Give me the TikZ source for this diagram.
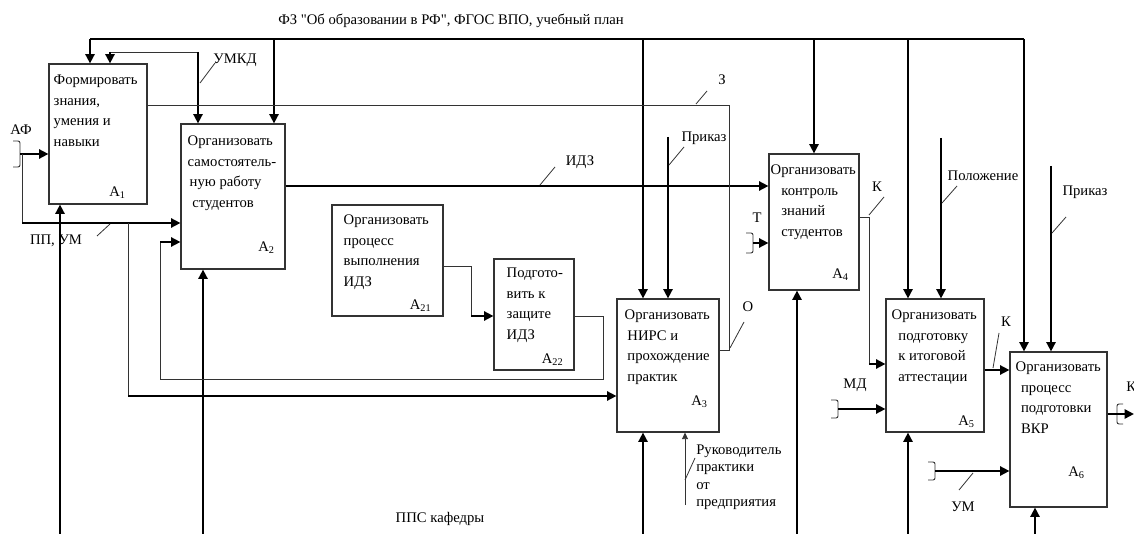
\documentclass[tikz,border=0pt]{standalone}
\usepackage{fontspec}
\setmainfont{Liberation Serif}
\newfontfamily\plainserif{Liberation Serif}
\usetikzlibrary{arrows.meta,fit}

\tikzset{
    blk/.style={draw=black!80, line width=0.8pt, inner sep=0pt},
    btxt/.style={anchor=north west, align=left, inner sep=0pt},
    lbl/.style={inner sep=0pt},
    thk/.style={line width=1.6pt},
    mid/.style={line width=1pt},
    thn/.style={draw=black!80, line width=0.7pt},
    tunnel in/.pic={\draw[thn, rounded corners=1.5pt] (-7,-#1) -- (0,-#1) -- (0,#1) -- (-7,#1);},
    tunnel out/.pic={\draw[thn, rounded corners=1.5pt] (6,-#1) -- (0,-#1) -- (0,#1) -- (6,#1);},
}

\begin{document}
\begin{tikzpicture}[x=0.75pt, y=-0.75pt, >={Triangle[length=7pt,width=6.8pt]},
        font=\fontsize{11}{15.5}\selectfont]
        \useasboundingbox (0,0) rectangle (1134,534);

        % blocks
        \node[blk, fit={(49,64) (147,204)}] (a1) {};
        \node[blk, fit={(181,124) (285,269)}] (a2) {};
        \node[blk, fit={(332,205) (443,316)}] (a21) {};
        \node[blk, fit={(494,259) (574,370)}] (a22) {};
        \node[blk, fit={(617,299) (719,432)}] (a3) {};
        \node[blk, fit={(769,154) (859,290)}] (a4) {};
        \node[blk, fit={(886,299) (984,432)}] (a5) {};
        \node[blk, fit={(1010,352) (1107,507)}] (a6) {};

        \node[btxt] (a1t) at ([shift={(5,11)}]a1.north west) {Формировать\\знания,\\умения и\\навыки};
        \node[btxt] (a2t) at ([shift={(7,12)}]a2.north west) {Организовать\\самостоятель-\\\hspace*{1.5pt}ную работу\\\hspace*{3.5pt}студентов};
        \node[btxt] (a21t) at ([shift={(12,10)}]a21.north west) {Организовать\\процесс\\выполнения\\ИДЗ};
        \node[btxt] (a22t) at ([shift={(13,9)}]a22.north west) {Подгото-\\вить к\\защите\\ИДЗ};
        \node[btxt] (a3t) at ([shift={(8,11)}]a3.north west) {Организовать\\\hspace*{2pt}НИРС и\\\hspace*{2pt}прохождение\\\hspace*{2pt}практик};
        \node[btxt] (a4t) at ([shift={(2,11)}]a4.north west) {Организовать\\\hspace*{8pt}контроль\\\hspace*{8pt}знаний\\\hspace*{8pt}студентов};
        \node[btxt] (a5t) at ([shift={(6,11)}]a5.north west) {Организовать\\\hspace*{5pt}подготовку\\\hspace*{5pt}к итоговой\\\hspace*{5pt}аттестации};
        \node[btxt] (a6t) at ([shift={(6,10)}]a6.north west) {Организовать\\\hspace*{4pt}процесс\\\hspace*{4pt}подготовки\\\hspace*{4pt}ВКР};

        \path (a1.south east) ++(-30,-12) node[lbl] (a1n) {A\textsubscript{1}};
        \path (a2.south east) ++(-19,-22) node[lbl] (a2n) {A\textsubscript{2}};
        \path (a21.south east) ++(-23,-11) node[lbl] (a21n) {A\textsubscript{21}};
        \path (a22.south east) ++(-22,-11) node[lbl] (a22n) {A\textsubscript{22}};
        \path (a3.south east) ++(-20,-31) node[lbl] (a3n) {A\textsubscript{3}};
        \path (a4.south east) ++(-19,-16) node[lbl] (a4n) {A\textsubscript{4}};
        \path (a5.south east) ++(-18,-11) node[lbl] (a5n) {A\textsubscript{5}};
        \path (a6.south east) ++(-31,-35) node[lbl] (a6n) {A\textsubscript{6}};

        % controls from above
        \coordinate (c1) at (90,39);
        \coordinate (c2) at (274,39);
        \coordinate (c3) at (643,39);
        \coordinate (c4) at (814,39);
        \coordinate (c5) at (908,39);
        \coordinate (c6) at (1024,39);
        \draw[mid] (c1) -- (c6);
        \draw[thk, ->] (c1) -- (c1 |- a1.north);
        \draw[thk, ->] (c2) -- (c2 |- a2.north);
        \draw[thk, ->] (c3) -- (c3 |- a3.north);
        \draw[thk, ->] (c4) -- (c4 |- a4.north);
        \draw[thk, ->] (c5) -- (c5 |- a5.north);
        \draw[thk, ->] (c6) -- (c6 |- a6.north);

        \coordinate (u1) at (110,52);
        \coordinate (u2) at (198,52);
        \draw[thn] (u1) -- (u2);
        \draw[thk, ->] (u1) -- (u1 |- a1.north);
        \draw[thk, ->] (u2) -- (u2 |- a2.north);

        \coordinate (p3) at (668,137);
        \coordinate (p5) at (941,138);
        \coordinate (p6) at (1051,166);
        \draw[thk, ->] (p3) -- (p3 |- a3.north);
        \draw[thk, ->] (p5) -- (p5 |- a5.north);
        \draw[thk, ->] (p6) -- (p6 |- a6.north);

        % mechanisms from below
        \coordinate (m1) at (60,534);
        \coordinate (m2) at (203,534);
        \coordinate (m3) at (643,534);
        \coordinate (m4) at (797,534);
        \coordinate (m5) at (908,534);
        \coordinate (m6) at (1035,534);
        \draw[thk, ->] (m1) -- (m1 |- a1.south);
        \draw[thk, ->] (m2) -- (m2 |- a2.south);
        \draw[thk, ->] (m3) -- (m3 |- a3.south);
        \draw[thk, ->] (m4) -- (m4 |- a4.south);
        \draw[thk, ->] (m5) -- (m5 |- a5.south);
        \draw[thk, ->] (m6) -- (m6 |- a6.south);
        \coordinate (r3) at (685,505);
        \draw[thn, ->, >={Triangle[length=5pt,width=4.5pt]}] (r3) -- (r3 |- a3.south);

        % inputs and outputs
        \coordinate (af) at (20,154);
        \pic at (af) {tunnel in=13};
        \draw[thk, ->] (af) -- (af -| a1.west);
        \coordinate (pp) at (22,223);
        \draw[thn] (af -| pp) -- (pp);
        \draw[thk, ->] (pp) -- (pp -| a2.west);

        \coordinate (n1) at (128,223);
        \coordinate (n2) at (128,396);
        \draw[thn] (n1) -- (n2);
        \draw[thk, ->] (n2) -- (n2 -| a3.west);

        \coordinate (idz) at (0,186);
        \draw[thk, ->] (a2.east |- idz) -- (a4.west |- idz);

        \coordinate (z1) at (729,105);
        \coordinate (z2) at (729,350);
        \draw[thn] (a1.east |- z1) -- (z1) -- (z2) -- (z2 -| a3.east);

        \coordinate (g1) at (471,266);
        \coordinate (g2) at (471,316);
        \draw[thn] (a21.east |- g1) -- (g1) -- (g2);
        \draw[thk, ->] (g2) -- (g2 -| a22.west);

        \coordinate (f1) at (603,316);
        \coordinate (f2) at (603,379);
        \coordinate (f3) at (160,379);
        \coordinate (f4) at (160,242);
        \draw[thn] (a22.east |- f1) -- (f1) -- (f2) -- (f3) -- (f4);
        \draw[thk, ->] (f4) -- (f4 -| a2.west);

        \coordinate (t4) at (753,243);
        \pic at (t4) {tunnel in=10};
        \draw[thk, ->] (t4) -- (t4 -| a4.west);

        \coordinate (k1) at (869,217);
        \coordinate (k2) at (869,364);
        \draw[thn] (a4.east |- k1) -- (k1) -- (k2);
        \draw[thk, ->] (k2) -- (k2 -| a5.west);

        \coordinate (md) at (838,409);
        \pic at (md) {tunnel in=9};
        \draw[thk, ->] (md) -- (md -| a5.west);

        \coordinate (k5) at (0,370);
        \draw[thk, ->] (a5.east |- k5) -- (a6.west |- k5);

        \coordinate (um) at (935,471);
        \pic at (um) {tunnel in=9};
        \draw[thk, ->] (um) -- (um -| a6.west);

        \coordinate (ko) at (1134,414);
        \pic at (1117,414) {tunnel out=10};
        \draw[thk, ->] (a6.east |- ko) -- (ko);

        % labels
        \node[lbl] (ctl) at (451,21) {ФЗ {\plainserif"}Об образовании в РФ{\plainserif"}, ФГОС ВПО, учебный план};
        \node[lbl] (umkd) at (235,60) {УМКД};
        \node[lbl] (afl) at (21,130) {АФ};
        \node[lbl] (ppl) at (56,241) {ПП, УМ};
        \node[lbl] (idzl) at (580,162) {ИДЗ};
        \node[lbl] (zl) at (722,80) {З};
        \node[lbl] (pr3) at (704,138) {Приказ};
        \node[lbl] (ol) at (748,307) {О};
        \node[lbl] (tl) at (757,218) {Т};
        \node[lbl] (k4l) at (877,187) {К};
        \node[lbl] (polo) at (983,176) {Положение};
        \node[lbl] (pr6) at (1085,192) {Приказ};
        \node[lbl] (k5l) at (1006,322) {К};
        \node[lbl] (mdl) at (855,385) {МД};
        \node[lbl] (uml) at (963,507) {УМ};
        \node[lbl, anchor=west] (k6l) at (1126,387) {К};
        \node[lbl, anchor=north west, align=left, font=\fontsize{11}{12.8}\selectfont] (ruk) at (696,445) {Руководитель\\практики\\от\\предприятия};
        \node[lbl] (pps) at (440,519) {ППС кафедры};

        \begin{scope}[thn, line width=0.6pt]
            \draw (200,83) -- (215,63);
            \draw (97,236) -- (110,224);
            \draw (540,185) -- (555,167);
            \draw (696,104) -- (707,91);
            \draw (669,165) -- (684,147);
            \draw (730,348) -- (744,322);
            \draw (869,215) -- (884,197);
            \draw (942,203) -- (957,186);
            \draw (1052,233) -- (1066,217);
            \draw (993,368) -- (999,333);
            \draw (959,490) -- (973,473);
            \draw (685,480) -- (695,458);
        \end{scope}

    \end{tikzpicture}
\end{document}
